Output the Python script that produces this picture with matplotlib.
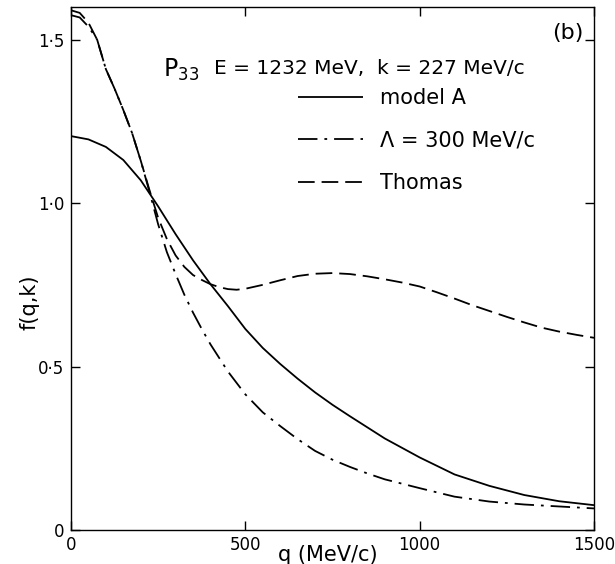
import matplotlib
matplotlib.use("Agg")
import matplotlib.pyplot as plt
from matplotlib.ticker import FixedLocator, FixedFormatter

plt.rcParams['font.family'] = ['DejaVu Sans']
plt.rcParams['mathtext.default'] = 'regular'
plt.rcParams['lines.scale_dashes'] = False

# momentum grid points (MeV/c) and f(q,k) values for each curve
q_model_a = [0, 50, 100, 150, 200, 250, 300, 350, 400, 450, 500, 550, 600, 650,
             700, 750, 800, 900, 1000, 1100, 1200, 1300, 1400, 1500]
f_model_a = [1.205, 1.195, 1.172, 1.132, 1.070, 0.990, 0.905, 0.825, 0.752, 0.685,
             0.615, 0.557, 0.508, 0.463, 0.421, 0.383, 0.348, 0.280, 0.222, 0.170,
             0.135, 0.107, 0.088, 0.076]

q_lambda = [0, 25, 50, 75, 100, 125, 150, 175, 200, 225, 250, 275, 300, 325, 350,
            375, 400, 450, 500, 550, 600, 650, 700, 750, 800, 850, 900, 1000, 1100,
            1200, 1300, 1400, 1500]
f_lambda = [1.575, 1.568, 1.540, 1.500, 1.410, 1.350, 1.285, 1.215, 1.130, 1.035,
            0.935, 0.850, 0.783, 0.720, 0.665, 0.615, 0.568, 0.485, 0.415, 0.360,
            0.318, 0.278, 0.242, 0.215, 0.193, 0.173, 0.155, 0.128, 0.102, 0.087,
            0.078, 0.072, 0.066]

q_thomas = [0, 25, 50, 75, 100, 125, 150, 175, 200, 225, 250, 275, 300, 325, 350,
            375, 400, 425, 450, 475, 500, 550, 600, 650, 700, 750, 800, 850, 900,
            950, 1000, 1050, 1100, 1150, 1200, 1250, 1300, 1350, 1400, 1450, 1500]
f_thomas = [1.590, 1.582, 1.552, 1.500, 1.410, 1.350, 1.285, 1.215, 1.130, 1.040,
            0.955, 0.890, 0.840, 0.805, 0.780, 0.765, 0.752, 0.743, 0.737, 0.735,
            0.738, 0.750, 0.764, 0.777, 0.784, 0.786, 0.783, 0.776, 0.767, 0.757,
            0.745, 0.727, 0.708, 0.688, 0.670, 0.652, 0.635, 0.619, 0.607, 0.597,
            0.588]

x_ticks = [0, 500, 1000, 1500]
x_tick_labels = ['0', '500', '1000', '1500']
y_ticks = [0, 0.5, 1.0, 1.5]
y_tick_labels = ['0', '0·5', '1·0', '1·5']

W, H = 615, 564
fig = plt.figure(figsize=(W / 100, H / 100), dpi=100)
ax = fig.add_axes([71 / W, 1 - 530 / H, (594 - 71) / W, (530 - 7) / H])

lw = 1.3
line_a, = ax.plot(q_model_a, f_model_a, color='black', lw=lw, solid_capstyle='butt')
line_l, = ax.plot(q_lambda, f_lambda, color='black', lw=lw,
                  dashes=(14, 5, 2, 5), dash_capstyle='butt')
line_t, = ax.plot(q_thomas, f_thomas, color='black', lw=lw,
                  dashes=(12, 5), dash_capstyle='butt')

ax.set_xlim(0, 1500)
ax.set_ylim(0, 1.6)

ax.xaxis.set_major_locator(FixedLocator(x_ticks))
ax.xaxis.set_major_formatter(FixedFormatter(x_tick_labels))
ax.yaxis.set_major_locator(FixedLocator(y_ticks))
ax.yaxis.set_major_formatter(FixedFormatter(y_tick_labels))
ax.tick_params(direction='in', length=6.5, width=1.0, top=True, right=True,
               labelsize=12)
ax.tick_params(axis='x', pad=4)
ax.tick_params(axis='y', pad=5)
for sp in ax.spines.values():
    sp.set_linewidth(1.0)

# header and panel tag
fig.text(163 / W, 1 - 70 / H, 'P$_{33}$', fontsize=17, ha='left', va='center')
fig.text(525 / W, 1 - 69 / H, 'E = 1232 MeV,  k = 227 MeV/c', fontsize=14.5,
         ha='right', va='center')
fig.text(583 / W, 1 - 33 / H, '(b)', fontsize=16, ha='right', va='center')

# axis labels
fig.text(328 / W, 1 - 561 / H, 'q (MeV/c)', fontsize=15, ha='center', va='baseline')
fig.text(30 / W, 1 - 302 / H, 'f(q,k)', fontsize=15, ha='center', va='center',
         rotation=90)

leg = ax.legend([line_a, line_l, line_t],
                ['model A', 'Λ = 300 MeV/c', 'Thomas'],
                loc='upper left', bbox_to_anchor=(298 / W, 1 - 88 / H),
                bbox_transform=fig.transFigure, frameon=False, fontsize=15,
                handlelength=3.1, handletextpad=0.85, labelspacing=1.08,
                borderpad=0, borderaxespad=0)

fig.savefig('out.png', dpi=100)
